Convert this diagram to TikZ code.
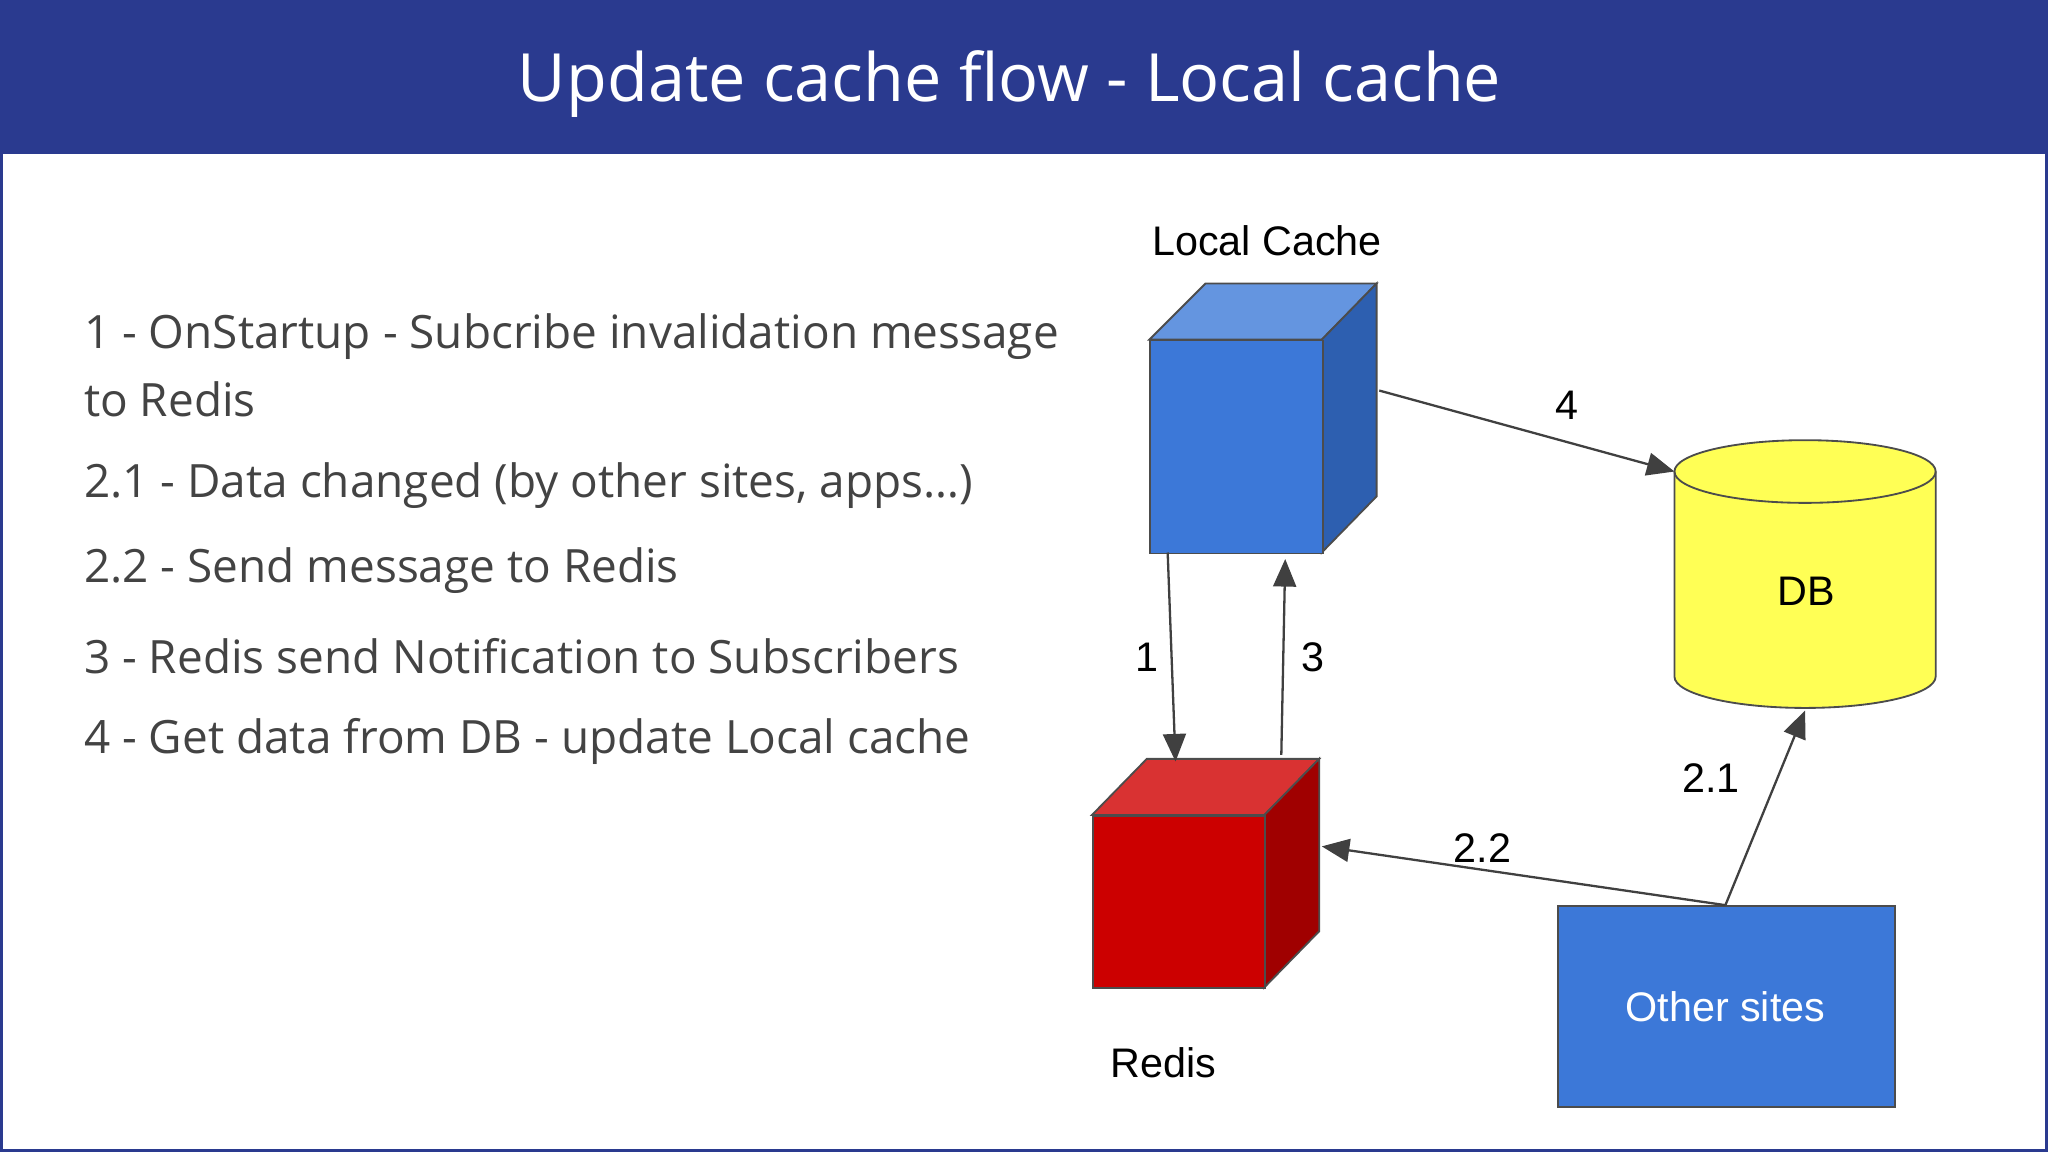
\documentclass[tikz,border=0pt]{standalone}
\usepackage{fontspec}
\setmainfont{Open Sans}
\newfontfamily\arial{Liberation Sans}
\usetikzlibrary{arrows.meta,shapes.geometric}
\definecolor{titlebg}{HTML}{2A3A8F}
\definecolor{cbfront}{HTML}{3C78D8}
\definecolor{cbtop}{HTML}{6495E0}
\definecolor{cbside}{HTML}{2D5FB0}
\definecolor{crfront}{HTML}{CC0000}
\definecolor{crtop}{HTML}{D93232}
\definecolor{crside}{HTML}{A00000}
\definecolor{dbyel}{HTML}{FFFF55}
\definecolor{arr}{HTML}{404040}
\definecolor{txt}{HTML}{434343}
\begin{document}
\begin{tikzpicture}[x=0.1mm,y=-0.1mm,
  lbl/.style={font=\arial\fontsize{9}{11}\selectfont,text=black},
  item/.style={anchor=west,font=\fontsize{10}{12}\selectfont,text=txt},
  conn/.style={draw=arr,line width=0.5pt,-{Triangle[length=6pt,width=5pt]}},
  face/.style={draw=black!70,line width=0.4pt}]
\useasboundingbox (0,0) rectangle (1568,882);
\draw[titlebg,line width=0.6pt] (1,1) rectangle (1567,881);
\fill[titlebg] (0,0) rectangle (1568,118);
\node[text=white,font=\fontsize{14.5}{17}\selectfont] (title) at (773,64) {Update cache flow - Local cache};
% list
\node[item] (l1) at (52,258) {1 - OnStartup - Subcribe invalidation message};
\node[item] (l1b) at (52,306) {to Redis};
\node[item] (l2) at (52,372) {2.1 - Data changed (by other sites, apps…)};
\node[item] (l3) at (52,437) {2.2 - Send message to Redis};
\node[item] (l4) at (52,502) {3 - Redis send Notification to Subscribers};
\node[item] (l5) at (52,568) {4 - Get data from DB - update Local cache};
% local cache cube
\draw[face,fill=cbtop] (880,260) -- (923,217) -- (1054,217) -- (1012,260) -- cycle;
\draw[face,fill=cbside] (1012,260) -- (1054,217) -- (1054,380) -- (1012,423) -- cycle;
\node[face,fill=cbfront,minimum width=132*0.1mm,minimum height=163*0.1mm,inner sep=0,anchor=north west] (lc) at (880,260) {};
\node[lbl] (lcl) at (970,184) {Local Cache};
% redis cube
\draw[face,fill=crtop] (836,624) -- (878,581) -- (1010,581) -- (968,624) -- cycle;
\draw[face,fill=crside] (968,624) -- (1010,581) -- (1010,713) -- (968,756) -- cycle;
\node[face,fill=crfront,minimum width=132*0.1mm,minimum height=132*0.1mm,inner sep=0,anchor=north west] (rd) at (836,624) {};
\node[lbl] (rdl) at (891,814) {Redis};
% DB
\draw[face,fill=dbyel] (1282,361) -- (1282,518) arc[start angle=180,end angle=360,x radius=100,y radius=-24] -- (1482,361) arc[start angle=0,end angle=180,x radius=100,y radius=-24] -- cycle;
\draw[face] (1282,361) arc[start angle=180,end angle=360,x radius=100,y radius=-24];
\node[lbl] (db) at (1383,453) {DB};
\coordinate (dbl) at (1282,361);
\coordinate (dbb) at (1382,544);
% other sites
\node[face,fill=cbfront,minimum width=258*0.1mm,minimum height=154*0.1mm,inner sep=0,anchor=north west] (os) at (1192,693) {};
\node[lbl,text=white] (osl) at (1321,771) {Other sites};
\coordinate (ost) at (1321,693);
% connectors
\coordinate (a1s) at (894,423); \coordinate (a1e) at (900,583);
\draw[conn] (a1s) -- (a1e);
\node[lbl] (n1) at (878,503) {1};
\coordinate (a3s) at (981,578); \coordinate (a3e) at (984,428);
\draw[conn] (a3s) -- (a3e);
\node[lbl] (n3) at (1005,503) {3};
\coordinate (a4s) at (1056,299);
\draw[conn] (a4s) -- (dbl);
\node[lbl] (n4) at (1200,310) {4};
\coordinate (rdr) at (1012,648);
\draw[conn] (ost) -- (rdr);
\node[lbl] (n22) at (1135,649) {2.2};
\draw[conn] (ost) -- (dbb);
\node[lbl] (n21) at (1310,596) {2.1};
\end{tikzpicture}
\end{document}
